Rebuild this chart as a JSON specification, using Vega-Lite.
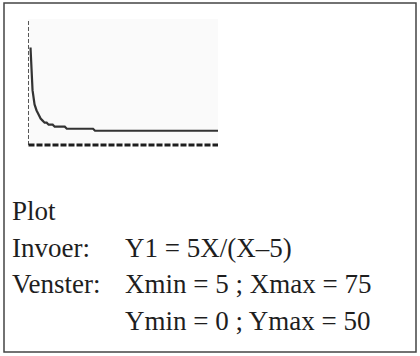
{
  "$schema": "https://vega.github.io/schema/vega-lite/v6.json",
  "width": 420,
  "height": 356,
  "autosize": {"type": "fit", "contains": "padding"},
  "padding": {"left": 4, "top": 3, "right": 4, "bottom": 4},
  "background": "white",
  "config": {
    "view": {"stroke": "#444444", "strokeWidth": 1.5},
    "text": {"font": "Liberation Serif", "fontSize": 27, "color": "#1e1e1e"}
  },
  "datasets": {
    "curve": [
      {"X": 5.745, "Y": 38.71},
      {"X": 6.489, "Y": 21.77},
      {"X": 7.234, "Y": 16.13},
      {"X": 7.979, "Y": 13.71},
      {"X": 8.723, "Y": 12.10},
      {"X": 9.468, "Y": 10.48},
      {"X": 10.213, "Y": 9.68},
      {"X": 10.957, "Y": 8.87},
      {"X": 11.702, "Y": 8.87},
      {"X": 12.447, "Y": 8.06},
      {"X": 13.936, "Y": 8.06},
      {"X": 14.681, "Y": 7.26},
      {"X": 18.404, "Y": 7.26},
      {"X": 19.149, "Y": 6.45},
      {"X": 28.830, "Y": 6.45},
      {"X": 29.574, "Y": 5.65},
      {"X": 75, "Y": 5.65}
    ],
    "window": [
      {"Xmin": 5, "Xmax": 75, "Ymin": 0, "Ymax": 50}
    ],
    "lines": [
      {"line": 1, "col": 1, "text": "Plot"},
      {"line": 2, "col": 1, "text": "Invoer:"},
      {"line": 2, "col": 2, "text": "Y1 = 5X/(X–5)"},
      {"line": 3, "col": 1, "text": "Venster:"},
      {"line": 3, "col": 2, "text": "Xmin = 5 ; Xmax = 75"},
      {"line": 4, "col": 2, "text": "Ymin = 0 ; Ymax = 50"}
    ]
  },
  "layer": [
    {
      "layer": [
        {
          "data": {"name": "window"},
          "mark": {"type": "rect", "color": "#fafafa"},
          "encoding": {
            "x": {"field": "Xmin", "type": "quantitative", "scale": {"domain": [-4.05, 148.14], "nice": false, "zero": false}, "axis": null},
            "x2": {"field": "Xmax"},
            "y": {"field": "Ymin", "type": "quantitative", "scale": {"domain": [-82.21, 56.39], "nice": false, "zero": false}, "axis": null},
            "y2": {"field": "Ymax"}
          }
        },
        {
          "data": {"name": "window"},
          "mark": {"type": "rule", "color": "#555555", "strokeWidth": 1, "strokeDash": [4, 2]},
          "encoding": {
            "x": {"field": "Xmin", "type": "quantitative"},
            "y": {"field": "Ymin", "type": "quantitative"},
            "y2": {"field": "Ymax"}
          }
        },
        {
          "data": {"name": "window"},
          "mark": {"type": "rule", "color": "#1e1e1e", "strokeWidth": 3, "strokeDash": [6, 2]},
          "encoding": {
            "x": {"field": "Xmin", "type": "quantitative"},
            "x2": {"field": "Xmax"},
            "y": {"field": "Ymin", "type": "quantitative"}
          }
        },
        {
          "data": {"name": "curve"},
          "mark": {"type": "line", "color": "#333333", "strokeWidth": 2.2},
          "encoding": {
            "x": {"field": "X", "type": "quantitative"},
            "y": {"field": "Y", "type": "quantitative"}
          }
        }
      ]
    },
    {
      "data": {"name": "lines"},
      "mark": {"type": "text", "align": "left", "baseline": "alphabetic"},
      "encoding": {
        "x": {"field": "col", "type": "quantitative", "scale": {"domain": [0.9292, 4.575], "nice": false, "zero": false}, "axis": null},
        "y": {"field": "line", "type": "quantitative", "scale": {"domain": [-4.918, 4.6], "nice": false, "zero": false, "reverse": true}, "axis": null},
        "text": {"field": "text"}
      }
    }
  ],
  "resolve": {"scale": {"x": "independent", "y": "independent"}}
}
